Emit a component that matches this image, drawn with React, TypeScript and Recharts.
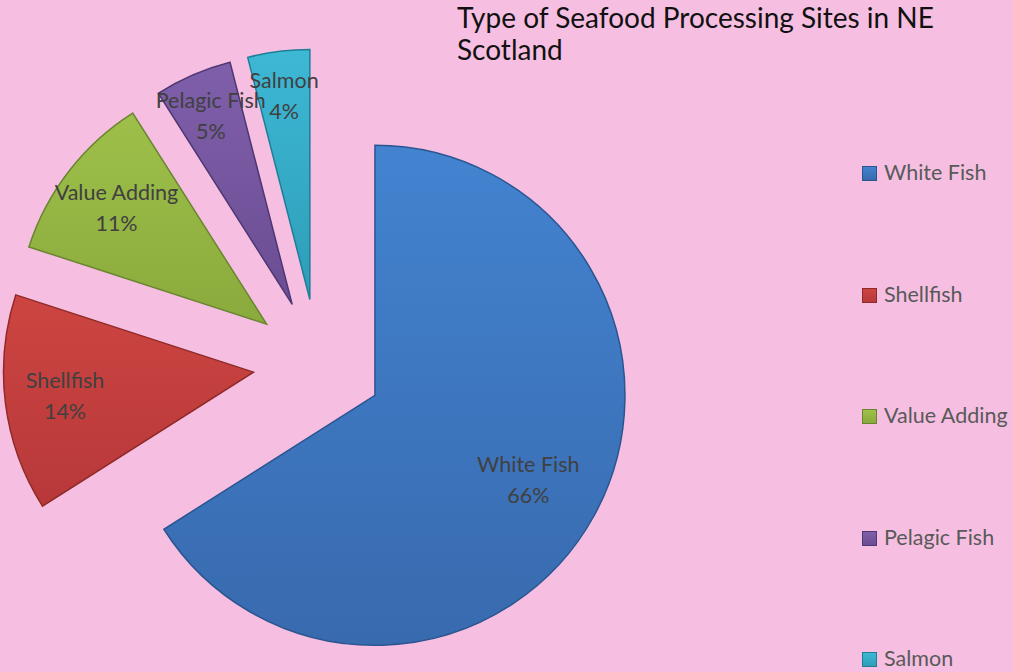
import React from 'react';
import { PieChart, Pie, Cell, Legend } from 'recharts';

const categories = ['White Fish', 'Shellfish', 'Value Adding', 'Pelagic Fish', 'Salmon'];
const shares = [66, 14, 11, 5, 4];
const colors = ['#4383D0', '#CC4541', '#9EC04A', '#805FAA', '#3DB8D5'];
const shadeColors = ['#386AAE', '#B8383A', '#8AAA3C', '#6A4D93', '#2E9DB8'];
const edgeColors = ['#2A5590', '#8E2A27', '#6A8530', '#4E3773', '#1F7E96'];
const titleLines = ['Type of Seafood Processing Sites in NE', 'Scotland'];

const W = 1013;
const H = 672;
const CX = 318;
const CY = 364;
const R = 250;
const EXPLODE = 65;
const RAD = Math.PI / 180;
const FONT = 'Lato, "Open Sans", sans-serif';

const data = categories.map((name, i) => ({ name, value: shares[i] }));
const total = shares.reduce((a, b) => a + b, 0);

// mid angle of every slice (recharts convention: degrees, ccw from 3 o'clock)
const midAngles = shares.map((v, i) => {
    const before = shares.slice(0, i).reduce((a, b) => a + b, 0);
    return 90 - ((before + v / 2) / total) * 360;
});

function makeLabel(slice: number) {
    return (props: any) => {
        const { cx, cy, midAngle, outerRadius, index, percent, name } = props;
        if (index !== slice) return null;
        const f = percent > 0.5 ? 0.7 : percent < 0.08 ? 0.82 : 0.76;
        const x = cx + outerRadius * f * Math.cos(-midAngle * RAD);
        const y = cy + outerRadius * f * Math.sin(-midAngle * RAD);
        return (
            <text x={x} y={y} textAnchor="middle" fill="#404040" fontSize={21.5} fontFamily={FONT}>
                <tspan x={x} dy={-8}>{name}</tspan>
                <tspan x={x} dy={31}>{`${Math.round(percent * 100)}%`}</tspan>
            </text>
        );
    };
}

function LegendBox() {
    return (
        <div style={{ fontFamily: FONT, fontSize: 21.5, color: '#595959' }}>
            {categories.map((c, i) => (
                <div key={c} style={{ height: 121.5, display: 'flex', alignItems: 'flex-start' }}>
                    <span
                        style={{
                            display: 'inline-block',
                            width: 13,
                            height: 13,
                            marginTop: 6,
                            marginRight: 7,
                            background: `linear-gradient(${colors[i]}, ${shadeColors[i]})`,
                            border: `1px solid ${edgeColors[i]}`,
                        }}
                    />
                    <span style={{ lineHeight: '24px' }}>{c}</span>
                </div>
            ))}
        </div>
    );
}

export default function App() {
    return (
        <div style={{ position: 'absolute', left: 0, top: 0, width: W, height: H, background: '#F6BFE1', overflow: 'hidden' }}>
            <div
                style={{
                    position: 'absolute',
                    left: 457,
                    top: 1,
                    fontFamily: FONT,
                    fontSize: 28,
                    lineHeight: '32px',
                    color: '#111',
                    whiteSpace: 'nowrap',
                }}
            >
                {titleLines.map((t) => (
                    <div key={t}>{t}</div>
                ))}
            </div>
            <PieChart width={W} height={H} margin={{ top: 0, right: 0, bottom: 0, left: 0 }}>
                <defs>
                    {colors.map((c, i) => (
                        <linearGradient key={c} id={`grad${i}`} x1="0" y1="0" x2="0" y2="1">
                            <stop offset="0%" stopColor={c} />
                            <stop offset="100%" stopColor={shadeColors[i]} />
                        </linearGradient>
                    ))}
                </defs>
                {categories.map((c, slice) => (
                    <Pie
                        key={c}
                        data={data}
                        dataKey="value"
                        nameKey="name"
                        cx={CX + EXPLODE * Math.cos(-midAngles[slice] * RAD)}
                        cy={CY + EXPLODE * Math.sin(-midAngles[slice] * RAD)}
                        outerRadius={R}
                        startAngle={90}
                        endAngle={-270}
                        isAnimationActive={false}
                        labelLine={false}
                        label={makeLabel(slice)}
                        legendType="none"
                    >
                        {data.map((d, i) => (
                            <Cell
                                key={d.name}
                                fill={i === slice ? `url(#grad${i})` : 'none'}
                                stroke={i === slice ? edgeColors[i] : 'none'}
                                strokeWidth={1.5}
                            />
                        ))}
                    </Pie>
                ))}
                <Legend
                    content={() => <LegendBox />}
                    wrapperStyle={{ position: 'absolute', left: 862, top: 160, width: 151, height: 620 }}
                />
            </PieChart>
        </div>
    );
}
